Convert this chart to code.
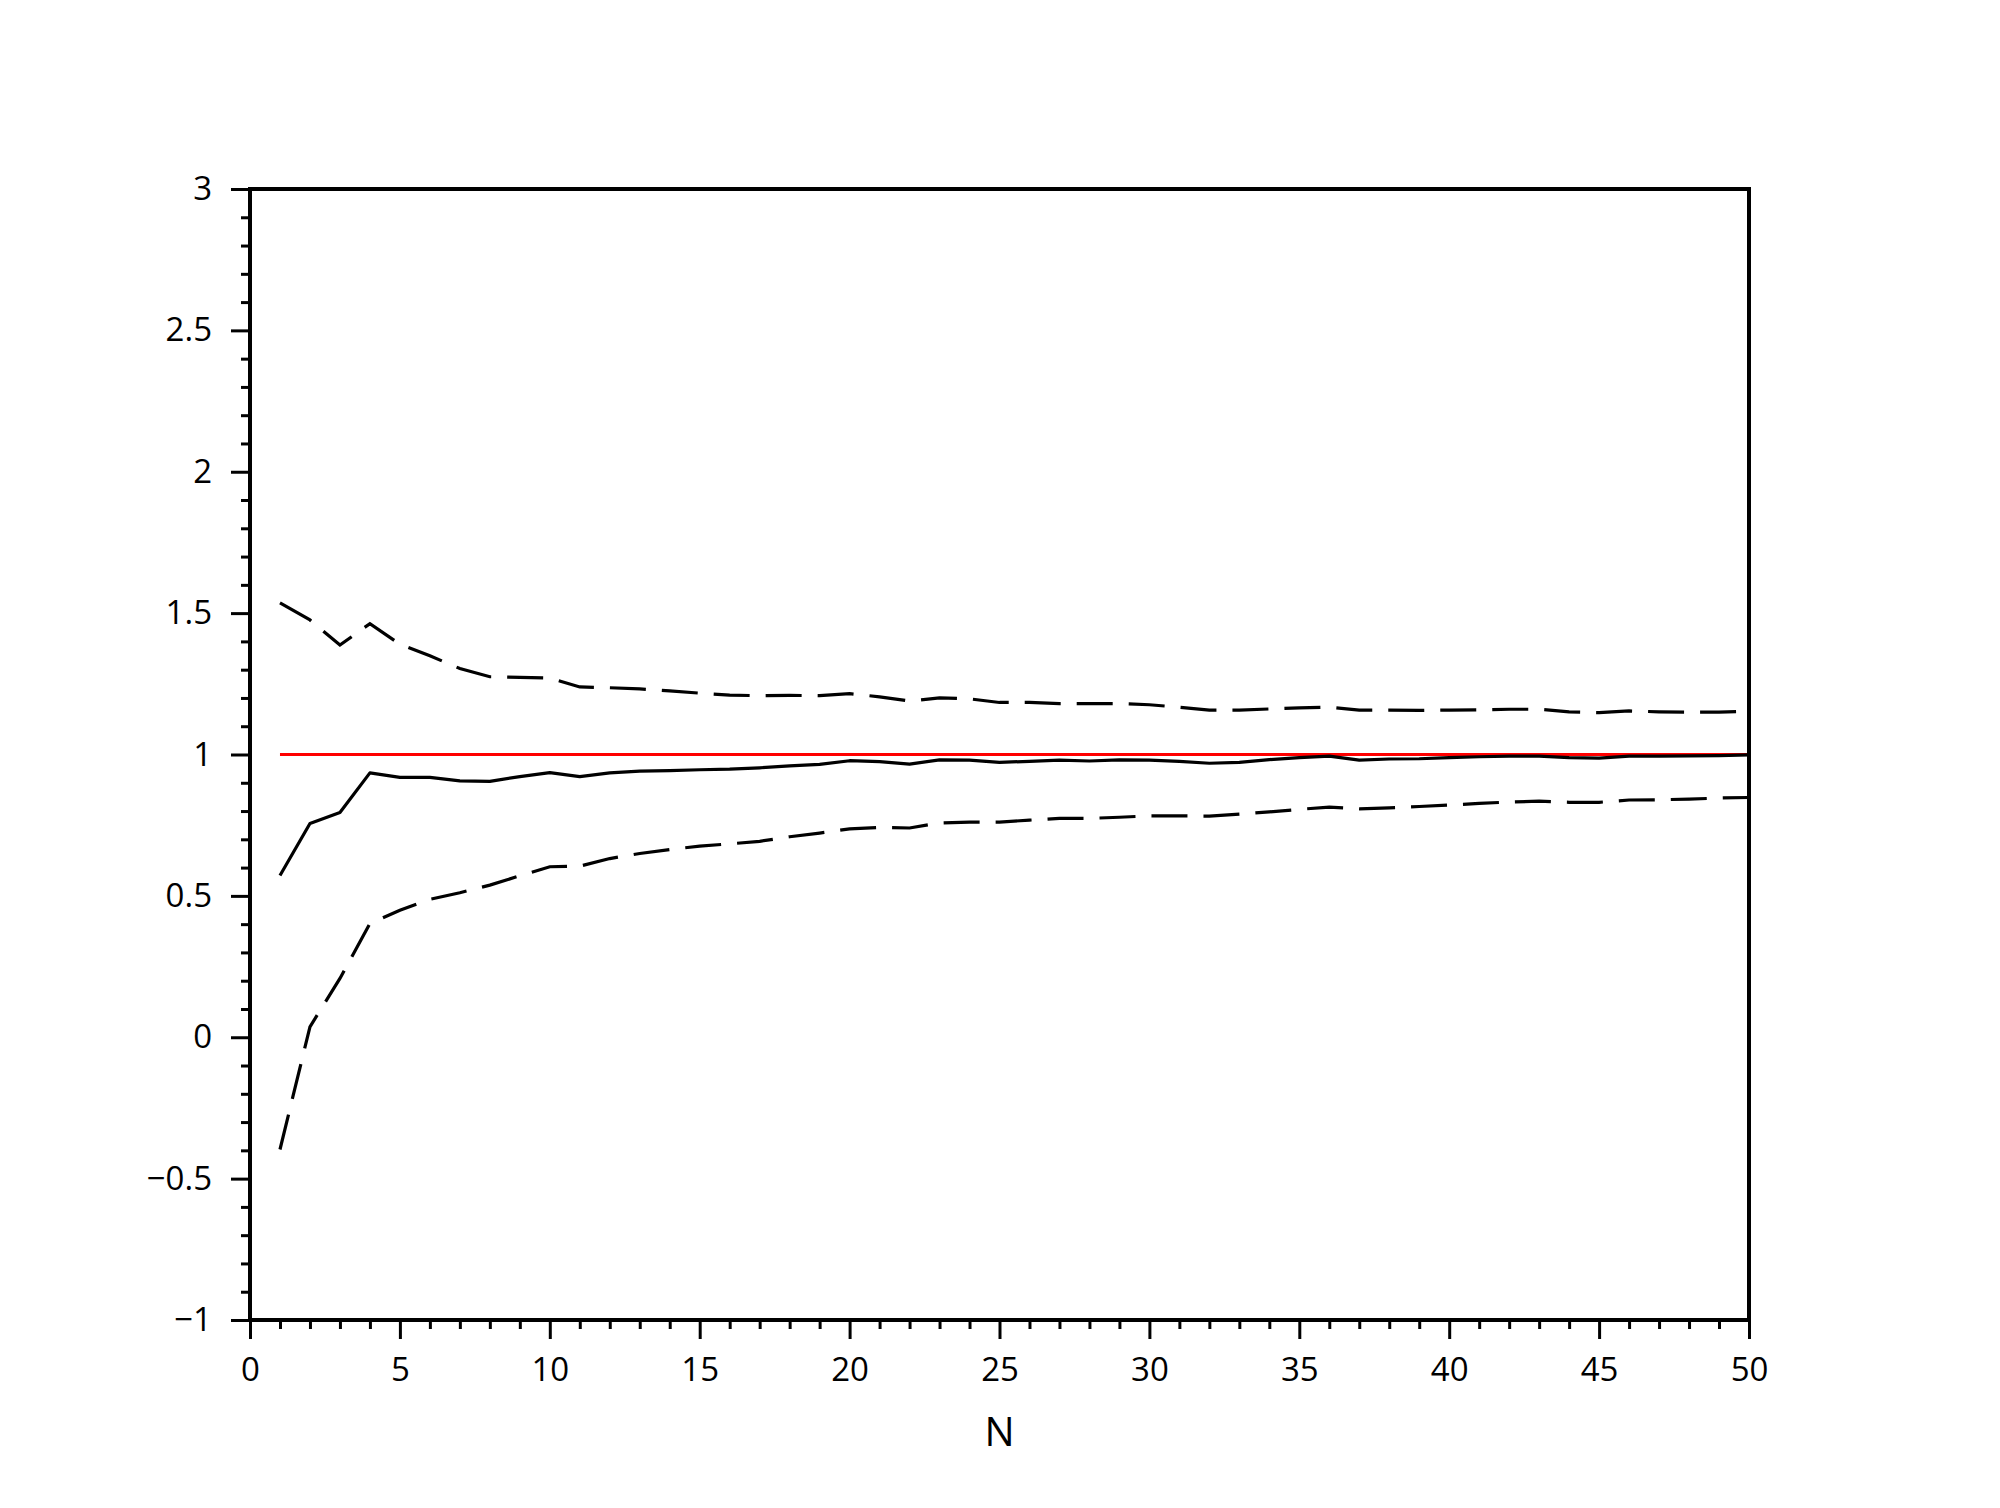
<!DOCTYPE html>
<html>
<head>
<meta charset="utf-8">
<script src="https://cdn.jsdelivr.net/npm/d3@7"></script>
<style>
  body { margin: 0; background: #fff; }
</style>
</head>
<body>
<div id="wrapper"></div>
<script>
// Data
const nValues = d3.range(1, 51);

const upperBand = [
  1.536, 1.476, 1.387, 1.463, 1.39, 1.349, 1.304, 1.275, 1.273, 1.27,
  1.239, 1.236, 1.232, 1.225, 1.217, 1.21, 1.208, 1.209, 1.208, 1.215,
  1.204, 1.189, 1.2, 1.197, 1.184, 1.184, 1.18, 1.18, 1.18, 1.176,
  1.167, 1.157, 1.157, 1.161, 1.165, 1.167, 1.157, 1.157, 1.156, 1.157,
  1.158, 1.16, 1.16, 1.151, 1.148, 1.154, 1.151, 1.15, 1.15, 1.153,
];

const meanValues = [
  0.572, 0.756, 0.795, 0.935, 0.919, 0.919, 0.907, 0.905, 0.922, 0.936,
  0.922, 0.935, 0.941, 0.943, 0.946, 0.948, 0.953, 0.96, 0.965, 0.978,
  0.975, 0.966, 0.981, 0.98, 0.972, 0.976, 0.98, 0.977, 0.981, 0.98,
  0.976, 0.969, 0.972, 0.982, 0.989, 0.994, 0.98, 0.984, 0.985, 0.989,
  0.992, 0.994, 0.994, 0.989, 0.987, 0.994, 0.994, 0.995, 0.996, 0.999,
];

const lowerBand = [
  -0.397, 0.037, 0.208, 0.402, 0.449, 0.488, 0.511, 0.538, 0.571, 0.603,
  0.605, 0.632, 0.65, 0.664, 0.676, 0.684, 0.693, 0.709, 0.722, 0.737,
  0.742, 0.74, 0.758, 0.761, 0.761, 0.768, 0.774, 0.774, 0.778, 0.783,
  0.783, 0.782, 0.789, 0.797, 0.806, 0.814, 0.808, 0.811, 0.816, 0.821,
  0.827, 0.832, 0.835, 0.831, 0.831, 0.839, 0.84, 0.842, 0.846, 0.848,
];

const trueValue = 1;

const xTicks = [0, 5, 10, 15, 20, 25, 30, 35, 40, 45, 50];
const yTicks = [-1, -0.5, 0, 0.5, 1, 1.5, 2, 2.5, 3];
const xLabel = 'N';

// Dimensions
let dimensions = {
  width: 2000,
  height: 1508,
  margin: { top: 189, right: 251, bottom: 188, left: 250 },
};
dimensions.boundedWidth =
  dimensions.width - dimensions.margin.left - dimensions.margin.right;
dimensions.boundedHeight =
  dimensions.height - dimensions.margin.top - dimensions.margin.bottom;

const fontFamily = '"Open Sans", "DejaVu Sans", sans-serif';

// Scales
const xScale = d3
  .scaleLinear()
  .domain([0, 50])
  .range([0, dimensions.boundedWidth]);

const yScale = d3
  .scaleLinear()
  .domain([-1, 3])
  .range([dimensions.boundedHeight, 0]);

// Canvas
const wrapper = d3
  .select('#wrapper')
  .append('svg')
  .attr('width', dimensions.width)
  .attr('height', dimensions.height);

wrapper
  .append('rect')
  .attr('width', dimensions.width)
  .attr('height', dimensions.height)
  .attr('fill', '#fff');

const bounds = wrapper
  .append('g')
  .attr(
    'transform',
    `translate(${dimensions.margin.left}, ${dimensions.margin.top})`
  );

// Lines
const lineOf = (values) =>
  d3
    .line()
    .x((d, i) => xScale(nValues[i]))
    .y((d) => yScale(d))(values);

bounds
  .append('path')
  .attr('d', lineOf(nValues.map(() => trueValue)))
  .attr('fill', 'none')
  .attr('stroke', '#ff0000')
  .attr('stroke-width', 3);

bounds
  .append('path')
  .attr('d', lineOf(meanValues))
  .attr('fill', 'none')
  .attr('stroke', '#000')
  .attr('stroke-width', 3.2)
  .attr('stroke-linejoin', 'round');

[upperBand, lowerBand].forEach((band) => {
  bounds
    .append('path')
    .attr('d', lineOf(band))
    .attr('fill', 'none')
    .attr('stroke', '#000')
    .attr('stroke-width', 3.2)
    .attr('stroke-dasharray', '36,16');
});

// Axes
const xMinor = d3
  .axisBottom(xScale)
  .tickValues(d3.range(0, 51).filter((d) => d % 5 !== 0))
  .tickSize(9)
  .tickFormat('');
const xAxis = d3
  .axisBottom(xScale)
  .tickValues(xTicks)
  .tickSize(19)
  .tickFormat(d3.format(''));

const yMinor = d3
  .axisLeft(yScale)
  .tickValues(d3.range(-10, 31).filter((d) => d % 5 !== 0).map((d) => d / 10))
  .tickSize(9)
  .tickFormat('');
const yAxis = d3
  .axisLeft(yScale)
  .tickValues(yTicks)
  .tickSize(19)
  .tickPadding(19)
  .tickFormat(d3.format(''));

const axisGroups = [
  bounds.append('g').attr('transform', `translate(0, ${dimensions.boundedHeight})`).call(xMinor),
  bounds.append('g').attr('transform', `translate(0, ${dimensions.boundedHeight})`).call(xAxis),
  bounds.append('g').call(yMinor),
  bounds.append('g').call(yAxis),
];

axisGroups.forEach((g) => {
  g.select('.domain').remove();
  g.selectAll('.tick line').attr('stroke', '#000').attr('stroke-width', 3);
  g.attr('font-family', fontFamily).attr('font-size', 33);
  g.selectAll('.tick text').attr('fill', '#000');
});

axisGroups[1].selectAll('.tick text').attr('y', 61).attr('dy', 0);

// Frame
bounds
  .append('rect')
  .attr('width', dimensions.boundedWidth)
  .attr('height', dimensions.boundedHeight)
  .attr('fill', 'none')
  .attr('stroke', '#000')
  .attr('stroke-width', 4);

// Axis label
bounds
  .append('text')
  .attr('x', dimensions.boundedWidth / 2)
  .attr('y', dimensions.boundedHeight + 126)
  .attr('text-anchor', 'middle')
  .attr('font-family', fontFamily)
  .attr('font-size', 40)
  .attr('fill', '#000')
  .text(xLabel);
</script>
</body>
</html>
